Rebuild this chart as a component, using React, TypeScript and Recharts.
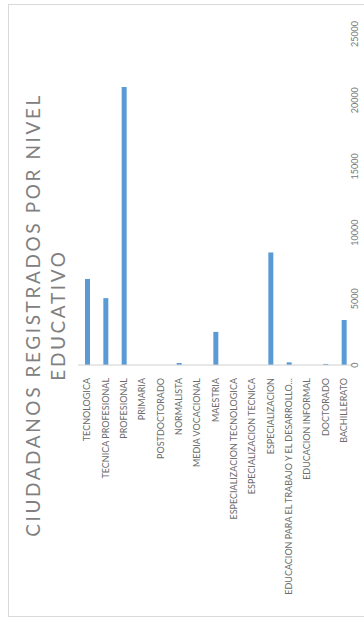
import { BarChart, Bar, XAxis, YAxis } from 'recharts';

const niveles = [
  'TECNOLOGICA',
  'TECNICA PROFESIONAL',
  'PROFESIONAL',
  'PRIMARIA',
  'POSTDOCTORADO',
  'NORMALISTA',
  'MEDIA VOCACIONAL',
  'MAESTRIA',
  'ESPECIALIZACION TECNOLOGICA',
  'ESPECIALIZACION TECNICA',
  'ESPECIALIZACION',
  'EDUCACION PARA EL TRABAJO Y EL DESARROLLO...',
  'EDUCACION INFORMAL',
  'DOCTORADO',
  'BACHILLERATO',
];

const ciudadanos = [6500, 5050, 21000, 0, 0, 150, 0, 2500, 0, 0, 8500, 200, 0, 80, 3400];

const valorTicks = [0, 5000, 10000, 15000, 20000, 25000];

const tituloLineas = ['CIUDADANOS REGISTRADOS POR NIVEL', 'EDUCATIVO'];

const data = niveles.map((nivel, i) => ({ nivel, total: ciudadanos[i] }));

const FONT = 'Lato, "Open Sans", sans-serif';

function NivelTick({ x, y, payload }: any) {
  return (
    <text
      x={x}
      y={y + 5}
      dy="0.35em"
      transform={`rotate(-90, ${x}, ${y + 5})`}
      textAnchor="end"
      fontSize={9}
      fill="#6b6b6b"
      fontFamily={FONT}
    >
      {payload.value}
    </text>
  );
}

function ValorTick({ x, y, payload }: any) {
  const tx = x - 6;
  return (
    <text
      x={tx}
      y={y}
      dy="0.35em"
      transform={`rotate(-90, ${tx}, ${y})`}
      textAnchor="middle"
      fontSize={9}
      fill="#777"
      fontFamily={FONT}
    >
      {payload.value}
    </text>
  );
}

export default function App() {
  return (
    <div
      style={{
        position: 'absolute',
        left: 8,
        top: 4,
        width: 360,
        height: 611,
        borderTop: '1px solid #d9d9d9',
        borderLeft: '1px solid #d9d9d9',
        borderBottom: '1px solid #d9d9d9',
        background: '#fff',
      }}
    >
      <BarChart
        width={356}
        height={611}
        data={data}
        margin={{ top: 29, right: 0, bottom: 0, left: 69 }}
        barCategoryGap={0}
      >
        <XAxis
          dataKey="nivel"
          interval={0}
          height={251}
          tickLine={false}
          axisLine={{ stroke: '#d0d0d0' }}
          tick={<NivelTick />}
        />
        <YAxis
          orientation="right"
          width={12}
          domain={[0, 25000]}
          ticks={valorTicks}
          axisLine={false}
          tickLine={false}
          tick={<ValorTick />}
        />
        <Bar dataKey="total" fill="#5b9bd5" barSize={5} isAnimationActive={false} />
      </BarChart>
      <svg
        width={356}
        height={611}
        style={{ position: 'absolute', left: 0, top: 0, pointerEvents: 'none' }}
      >
        {tituloLineas.map((linea, i) => {
          const cx = 24 + i * 25;
          const cy = 310;
          return (
            <text
              key={linea}
              x={cx}
              y={cy}
              dy="0.35em"
              transform={`rotate(-90, ${cx}, ${cy})`}
              textAnchor="middle"
              fontSize={19}
              letterSpacing={2.6}
              fill="#808080"
              fontFamily={FONT}
            >
              {linea}
            </text>
          );
        })}
      </svg>
    </div>
  );
}
